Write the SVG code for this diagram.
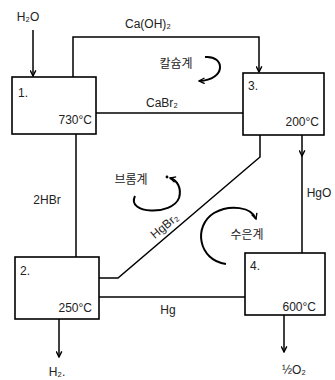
<svg xmlns="http://www.w3.org/2000/svg" width="335" height="380" viewBox="0 0 335 380">
<defs>
<marker id="arr" viewBox="0 0 10 10" refX="9" refY="5" markerWidth="7" markerHeight="7" orient="auto" markerUnits="userSpaceOnUse">
<path d="M1,1 L9,5 L1,9" fill="none" stroke="#000" stroke-width="2"/>
</marker>
</defs>
<style>
.box{fill:#fff;stroke:#000;stroke-width:1.6}
.ln{fill:none;stroke:#000;stroke-width:1.5}
.lp{fill:none;stroke:#000;stroke-width:2}
text{font-family:"Liberation Sans","Noto Sans CJK KR",sans-serif;font-size:12px;fill:#222}
.ko{font-family:"Noto Sans CJK KR",sans-serif;font-size:12px}
</style>
<rect width="335" height="380" fill="#fff"/>
<g id="connectors">
<line class="ln" x1="33" y1="30" x2="33" y2="76" marker-end="url(#arr)"/>
<path class="ln" d="M73,77 V37 H259 V72" marker-end="url(#arr)"/>
<line class="ln" x1="96" y1="113" x2="243" y2="113"/>
<line class="ln" x1="76" y1="134" x2="76" y2="257"/>
<path class="ln" d="M260,135 V157 L118,278 H99"/>
<line class="ln" x1="99" y1="297" x2="245" y2="297"/>
<line class="ln" x1="302" y1="135" x2="302" y2="156" marker-end="url(#arr)"/>
<line class="ln" x1="302" y1="154" x2="302" y2="253"/>
<line class="ln" x1="59" y1="319" x2="59" y2="357" marker-end="url(#arr)"/>
<line class="ln" x1="284" y1="315" x2="284" y2="352" marker-end="url(#arr)"/>
<path class="lp" d="M205,57 C225,55 227,80 199,81" marker-end="url(#arr)"/>
<path class="lp" d="M135,196 C126,214 172,216 179,198 C182,188 177,180 170,178" marker-end="url(#arr)"/>
<path class="lp" d="M226,264 C198,260 193,226 214,213 C230,204 252,207 256,219" marker-end="url(#arr)"/>
<text x="28" y="21" text-anchor="middle" font-size="11">H₂O</text>
<text x="148" y="28" text-anchor="middle" font-size="13">Ca(OH)₂</text>
<text x="162" y="107" text-anchor="middle">CaBr₂</text>
<text x="47" y="204" text-anchor="middle">2HBr</text>
<text x="167" y="229" text-anchor="middle" transform="rotate(-40 167 229)">HgBr₂</text>
<text x="168" y="314" text-anchor="middle">Hg</text>
<text x="319" y="197" text-anchor="middle">HgO</text>
<text x="57" y="376" text-anchor="middle">H₂.</text>
<text x="294" y="374" text-anchor="middle" font-size="13">½O₂</text>
<text class="ko" x="176" y="68" text-anchor="middle" font-size="13">칼슘계</text>
<text class="ko" x="131" y="184" text-anchor="middle">브롬계</text>
<circle cx="167" cy="177" r="1.4" fill="#000"/>
<text class="ko" x="247" y="239" text-anchor="middle">수은계</text>
</g>
<g id="n1">
<rect class="box" x="12" y="77" width="84" height="57"/>
<text x="18" y="97">1.</text>
<text x="92" y="124" text-anchor="end">730°C</text>
</g>
<g id="n3">
<rect class="box" x="243" y="73" width="81" height="62"/>
<text x="248" y="90">3.</text>
<text x="319" y="126" text-anchor="end">200°C</text>
</g>
<g id="n2">
<rect class="box" x="15" y="257" width="84" height="62"/>
<text x="20" y="275">2.</text>
<text x="92" y="312" text-anchor="end">250°C</text>
</g>
<g id="n4">
<rect class="box" x="245" y="253" width="80" height="62"/>
<text x="250" y="270">4.</text>
<text x="316" y="311" text-anchor="end">600°C</text>
</g>
</svg>
